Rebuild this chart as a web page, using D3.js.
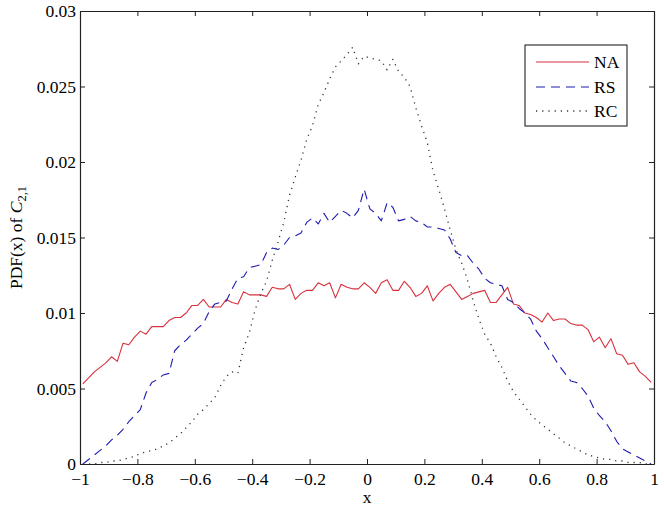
<!DOCTYPE html>
<html>
<head>
<meta charset="utf-8">
<script src="https://cdn.jsdelivr.net/npm/d3@7"></script>
<style>
  html, body { margin: 0; padding: 0; background: #fff; }
  svg { display: block; }
  text { font-family: "Liberation Serif", "Times New Roman", serif; fill: #000; }
</style>
</head>
<body>
<svg id="chart" width="664" height="510"></svg>
<script>
// ---- data ----
const seriesNames = ["NA", "RS", "RC"];
const xTicks = [-1, -0.8, -0.6, -0.4, -0.2, 0, 0.2, 0.4, 0.6, 0.8, 1];
const yTicks = [0, 0.005, 0.01, 0.015, 0.02, 0.025, 0.03];
const binCount = 100; // bin centres from -0.99 to 0.99

const NA = [0.0053,0.0057,0.0061,0.0064,0.0067,0.0071,0.0068,0.0080,0.0079,0.0084,
  0.0088,0.0086,0.0091,0.0091,0.0091,0.0095,0.0097,0.0097,0.0100,0.0105,
  0.0105,0.0109,0.0104,0.0104,0.0104,0.0109,0.0107,0.0106,0.0114,0.0112,
  0.0112,0.0112,0.0111,0.0117,0.0116,0.0116,0.0119,0.0109,0.0113,0.0115,
  0.0115,0.0120,0.0118,0.0120,0.0110,0.0119,0.0117,0.0116,0.0116,0.0120,
  0.0117,0.0113,0.0120,0.0122,0.0115,0.0115,0.0121,0.0117,0.0111,0.0113,
  0.0118,0.0108,0.0113,0.0117,0.0119,0.0114,0.0109,0.0111,0.0113,0.0114,
  0.0115,0.0107,0.0107,0.0112,0.0117,0.0106,0.0105,0.0100,0.0099,0.0097,
  0.0094,0.0100,0.0095,0.0096,0.0096,0.0093,0.0092,0.0092,0.0089,0.0081,
  0.0084,0.0077,0.0083,0.0073,0.0072,0.0066,0.0067,0.0061,0.0058,0.0054];

const RS = [0.0000,0.0003,0.0006,0.0009,0.0012,0.0016,0.0019,0.0023,0.0028,0.0032,
  0.0036,0.0047,0.0054,0.0056,0.0059,0.0060,0.0075,0.0079,0.0082,0.0086,
  0.0090,0.0093,0.0101,0.0106,0.0107,0.0108,0.0116,0.0123,0.0124,0.0130,
  0.0131,0.0132,0.0140,0.0143,0.0142,0.0145,0.0150,0.0151,0.0153,0.0160,
  0.0163,0.0159,0.0166,0.0160,0.0164,0.0168,0.0166,0.0163,0.0168,0.0182,
  0.0169,0.0166,0.0161,0.0173,0.0170,0.0161,0.0162,0.0164,0.0161,0.0160,
  0.0157,0.0157,0.0156,0.0155,0.0149,0.0140,0.0138,0.0138,0.0133,0.0129,
  0.0123,0.0120,0.0119,0.0118,0.0109,0.0107,0.0103,0.0100,0.0096,0.0088,
  0.0083,0.0077,0.0071,0.0065,0.0060,0.0055,0.0054,0.0050,0.0045,0.0037,
  0.0032,0.0028,0.0022,0.0015,0.0010,0.0008,0.0006,0.0004,0.0002,0.0000];

const RC = [0.0000,0.0000,0.0000,0.0001,0.0001,0.0002,0.0002,0.0003,0.0004,0.0005,
  0.0007,0.0008,0.0009,0.0010,0.0012,0.0014,0.0017,0.0020,0.0024,0.0028,
  0.0033,0.0036,0.0040,0.0044,0.0052,0.0058,0.0061,0.0060,0.0077,0.0087,
  0.0102,0.0113,0.0121,0.0135,0.0147,0.0160,0.0178,0.0190,0.0201,0.0215,
  0.0224,0.0238,0.0246,0.0255,0.0263,0.0267,0.0271,0.0276,0.0265,0.0270,
  0.0269,0.0268,0.0267,0.0261,0.0268,0.0260,0.0256,0.0250,0.0236,0.0224,
  0.0213,0.0194,0.0182,0.0169,0.0155,0.0142,0.0133,0.0122,0.0108,0.0096,
  0.0086,0.0080,0.0071,0.0064,0.0055,0.0048,0.0043,0.0038,0.0033,0.0029,
  0.0026,0.0023,0.0020,0.0017,0.0014,0.0012,0.0010,0.0008,0.0006,0.0005,
  0.0004,0.0003,0.0003,0.0002,0.0002,0.0001,0.0001,0.0001,0.0000,0.0000];

const seriesValues = [NA, RS, RC];
const seriesColors = ["#d8303c", "#1c1cb0", "#333333"];
const seriesDash = [null, "9,6", "1.2,5"];

// ---- layout ----
const L = 80, R = 654, T = 11, B = 464;
const svg = d3.select("#chart");

const x = d3.scaleLinear().domain([-1, 1]).range([L, R]);
const y = d3.scaleLinear().domain([0, 0.03]).range([B, T]);

const binCentres = d3.range(binCount).map(i => +(-0.99 + 0.02 * i).toFixed(2));

const fmtX = d => d === 0 ? "0" : d3.format("")(d);
const fmtY = d => d === 0 ? "0" : String(+d.toFixed(3));

const fontSize = "17.5px";

// bottom axis
const gB = svg.append("g").attr("transform", `translate(0,${B})`)
  .call(d3.axisBottom(x).tickValues(xTicks).tickFormat(fmtX).tickSizeInner(-5).tickSizeOuter(0).tickPadding(9));
// left axis
const gL = svg.append("g").attr("transform", `translate(${L},0)`)
  .call(d3.axisLeft(y).tickValues(yTicks).tickFormat(fmtY).tickSizeInner(-5).tickSizeOuter(0).tickPadding(4));
// top axis
const gT = svg.append("g").attr("transform", `translate(0,${T})`)
  .call(d3.axisTop(x).tickValues(xTicks).tickFormat("").tickSizeInner(-5).tickSizeOuter(0));
// right axis
const gR = svg.append("g").attr("transform", `translate(${R},0)`)
  .call(d3.axisRight(y).tickValues(yTicks).tickFormat("").tickSizeInner(-5).tickSizeOuter(0));

[gB, gL, gT, gR].forEach(g => {
  g.selectAll("path.domain").attr("stroke", "#222").attr("stroke-width", 1.2);
  g.selectAll(".tick line").attr("stroke", "#222").attr("stroke-width", 1);
  g.selectAll("text").attr("font-family", "Liberation Serif, serif").attr("font-size", fontSize).attr("fill", "#000");
});

// clip
svg.append("clipPath").attr("id", "clip").append("rect")
  .attr("x", L).attr("y", T - 2).attr("width", R - L).attr("height", B - T + 2);

const line = d3.line().x(d => x(d[0])).y(d => y(d[1]));

seriesValues.forEach((vals, k) => {
  const pts = vals.map((v, i) => [binCentres[i], v]);
  svg.append("path")
    .attr("clip-path", "url(#clip)")
    .attr("d", line(pts))
    .attr("fill", "none")
    .attr("stroke", seriesColors[k])
    .attr("stroke-width", k === 2 ? 1.3 : 1.1)
    .attr("stroke-dasharray", seriesDash[k])
    .attr("stroke-linejoin", "round");
});

// axis labels
svg.append("text").attr("x", x(0)).attr("y", 503)
  .attr("text-anchor", "middle").attr("font-size", fontSize).text("x");

const yl = svg.append("text")
  .attr("transform", `translate(22,${(T + B) / 2}) rotate(-90)`)
  .attr("text-anchor", "middle").attr("font-size", fontSize);
yl.append("tspan").text("PDF(x) of ");
yl.append("tspan").attr("font-style", "italic").text("C");
yl.append("tspan").attr("font-size", "12.5px").attr("dy", "4").text("2,1");

// legend
const lg = svg.append("g");
lg.append("rect").attr("x", 525).attr("y", 45).attr("width", 102).attr("height", 81)
  .attr("fill", "#fff").attr("stroke", "#222").attr("stroke-width", 1.1);
const legY = [62, 87, 111];
seriesNames.forEach((name, k) => {
  lg.append("line").attr("x1", 536).attr("x2", 589).attr("y1", legY[k]).attr("y2", legY[k])
    .attr("stroke", seriesColors[k]).attr("stroke-width", k === 2 ? 1.3 : 1.1)
    .attr("stroke-dasharray", seriesDash[k]);
  lg.append("text").attr("x", 594).attr("y", legY[k]).attr("dy", "0.35em")
    .attr("font-size", fontSize).text(name);
});
</script>
</body>
</html>
